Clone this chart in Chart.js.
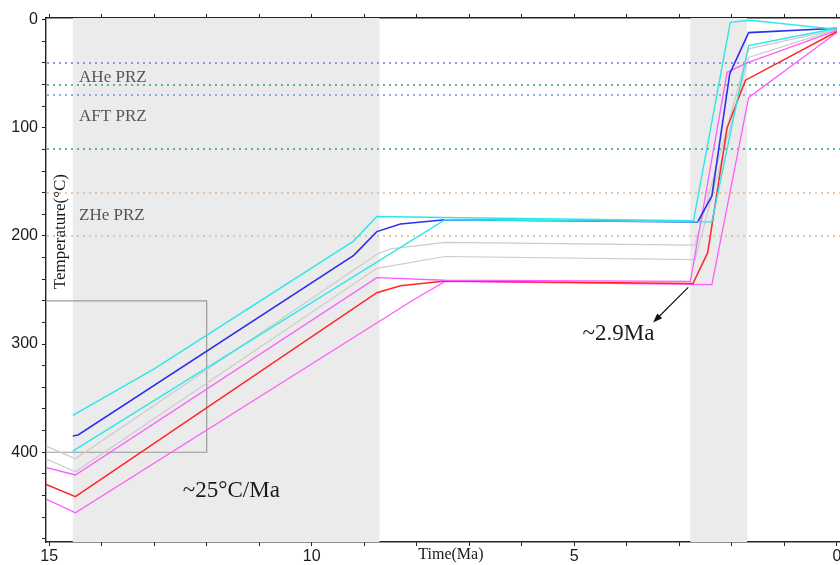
<!DOCTYPE html>
<html>
<head>
<meta charset="utf-8">
<script src="https://cdn.jsdelivr.net/npm/chart.js@4/dist/chart.umd.min.js"></script>
<style>
  html, body { margin: 0; padding: 0; background: #fff; overflow: hidden; }
  #wrap { width: 850px; height: 565px; }
</style>
</head>
<body>
<div id="wrap"><canvas id="c" width="850" height="565"></canvas></div>
<script>
// t-T paths (age in Ma, temperature in °C)
var cyanUpperAge = [14.55, 13.0, 9.21, 8.76, 7.5, 2.73, 2.03, 1.65, 0];
var cyanUpperTemp = [366, 323, 205, 182, 183, 186, 2.5, 0.6, 9];
var blueAge = [14.55, 14.45, 9.2, 8.76, 8.31, 7.46, 2.65, 2.38, 2.04, 1.68, 0];
var blueTemp = [385, 384, 218, 196, 189, 185, 187, 163, 50, 12, 8];
var cyanLowerAge = [14.55, 7.46, 2.38, 1.68, 0];
var cyanLowerTemp = [399, 185, 187, 24, 8];
var grayUpperAge = [15.07, 14.5, 8.76, 8.5, 7.46, 2.7, 1.68, 0];
var grayUpperTemp = [394, 406, 217, 212, 206, 208.5, 27, 9];
var grayLowerAge = [15.07, 14.5, 8.76, 7.46, 2.7, 1.68, 0];
var grayLowerTemp = [406, 418, 230, 219, 222, 35, 9];
var magentaUpperAge = [15.07, 14.5, 8.76, 7.46, 2.79, 2.09, 1.71, 0];
var magentaUpperTemp = [414, 421, 238.6, 241, 242, 48.7, 40, 10];
var redAge = [15.07, 14.5, 8.76, 8.31, 7.46, 2.74, 2.46, 2.09, 1.74, 0];
var redTemp = [429.5, 441, 252.5, 246, 241.7, 244, 215.5, 100, 56, 11];
var magentaLowerAge = [15.07, 14.5, 8.06, 7.46, 2.38, 1.68, 0];
var magentaLowerTemp = [443, 456, 259, 242, 245, 72, 12];

// ~25°C/Ma box
var boxAge = [15.3, 12, 12, 15.3];
var boxTemp = [260, 260, 400, 400];

// cooling episodes (shaded), Ma
var bandFrom = [14.55, 2.79];
var bandTo = [8.71, 1.71];

// partial retention zone limits, °C
var przTemp = [40, 70, 60, 120, 160, 200];
var przColor = ['#7676f0', '#8484f4', '#2f9e7e', '#2f9e7e', '#dfb48f', '#dfb48f'];
var przLabel = ['AHe PRZ', 'AFT PRZ', 'ZHe PRZ'];
var przLabelTemp = [58, 94, 185];

var xTickLabels = [15, 10, 5, 0];
var yTickLabels = [0, 100, 200, 300, 400];

function pts(ages, temps) {
  return ages.map(function (a, i) { return { x: a, y: temps[i] }; });
}

var serif = '"Liberation Serif", "Times New Roman", serif';

var overlay = {
  id: 'overlay',
  beforeDatasetsDraw: function (chart) {
    var ctx = chart.ctx, a = chart.chartArea, x = chart.scales.x, y = chart.scales.y;
    ctx.save();
    ctx.beginPath();
    ctx.rect(a.left, a.top, a.right - a.left, a.bottom - a.top);
    ctx.clip();
    ctx.fillStyle = '#ebebeb';
    for (var i = 0; i < bandFrom.length; i++) {
      var x1 = x.getPixelForValue(bandFrom[i]), x2 = x.getPixelForValue(bandTo[i]);
      ctx.fillRect(Math.min(x1, x2), a.top, Math.abs(x2 - x1), a.bottom - a.top);
    }
    ctx.lineWidth = 1.6;
    ctx.setLineDash([2, 4]);
    przTemp.forEach(function (t, i) {
      var py = Math.round(y.getPixelForValue(t));
      ctx.strokeStyle = przColor[i];
      ctx.beginPath();
      ctx.moveTo(a.left + 1, py);
      ctx.lineTo(a.right, py);
      ctx.stroke();
    });
    ctx.setLineDash([]);
    ctx.fillStyle = '#555';
    ctx.font = '17px ' + serif;
    ctx.textAlign = 'left';
    ctx.textBaseline = 'alphabetic';
    przLabel.forEach(function (s, i) {
      ctx.fillText(s, x.getPixelForValue(14.43), y.getPixelForValue(przLabelTemp[i]));
    });
    ctx.restore();
  },
  afterDatasetsDraw: function (chart) {
    var ctx = chart.ctx, x = chart.scales.x, y = chart.scales.y;
    ctx.save();
    ctx.fillStyle = '#1a1a1a';
    ctx.textAlign = 'center';
    ctx.textBaseline = 'middle';
    ctx.font = '23px ' + serif;
    ctx.fillText('~25\u00B0C/Ma', x.getPixelForValue(11.53), y.getPixelForValue(436));
    ctx.fillText('~2.9Ma', x.getPixelForValue(4.16), y.getPixelForValue(291));
    // temperature axis title inside the plot
    ctx.font = '17px ' + serif;
    ctx.save();
    ctx.translate(x.getPixelForValue(14.79), y.getPixelForValue(196));
    ctx.rotate(-Math.PI / 2);
    ctx.fillText('Temperature(\u00B0C)', 0, 0);
    ctx.restore();
    ctx.font = '16px ' + serif;
    ctx.fillText('Time(Ma)', x.getPixelForValue(7.35), x.top + 13);
    // arrow to the ~2.9 Ma kink
    var ax1 = x.getPixelForValue(2.83), ay1 = y.getPixelForValue(247.6);
    var ax2 = x.getPixelForValue(3.5), ay2 = y.getPixelForValue(280);
    var ang = Math.atan2(ay2 - ay1, ax2 - ax1);
    ctx.strokeStyle = '#111';
    ctx.lineWidth = 1.2;
    ctx.beginPath();
    ctx.moveTo(ax1, ay1);
    ctx.lineTo(ax2 - 6 * Math.cos(ang), ay2 - 6 * Math.sin(ang));
    ctx.stroke();
    ctx.beginPath();
    ctx.moveTo(ax2, ay2);
    ctx.lineTo(ax2 - 10 * Math.cos(ang - 0.35), ay2 - 10 * Math.sin(ang - 0.35));
    ctx.lineTo(ax2 - 10 * Math.cos(ang + 0.35), ay2 - 10 * Math.sin(ang + 0.35));
    ctx.closePath();
    ctx.fillStyle = '#111';
    ctx.fill();
    ctx.restore();
  }
};

function path(ages, temps, color, width) {
  return {
    data: pts(ages, temps),
    borderColor: color,
    borderWidth: width,
    pointRadius: 0,
    tension: 0,
    fill: false
  };
}

var datasets = [
  path(cyanUpperAge, cyanUpperTemp, '#2de6e6', 1.4),
  path(cyanLowerAge, cyanLowerTemp, '#2de6e6', 1.4),
  path(blueAge, blueTemp, '#2f2fee', 1.6),
  path(magentaUpperAge, magentaUpperTemp, '#ff5cff', 1.3),
  path(redAge, redTemp, '#ff2626', 1.5),
  path(magentaLowerAge, magentaLowerTemp, '#ff5cff', 1.3),
  path(grayUpperAge, grayUpperTemp, '#cccccc', 1.2),
  path(grayLowerAge, grayLowerTemp, '#cccccc', 1.2),
  path(boxAge, boxTemp, '#9a9a9a', 1.2)
];

var tickFont = { family: '"Liberation Sans", Arial, sans-serif', size: 16 };

new Chart(document.getElementById('c').getContext('2d'), {
  type: 'line',
  data: { datasets: datasets },
  options: {
    responsive: false,
    animation: false,
    devicePixelRatio: 1,
    layout: { padding: { left: 0, right: 0, top: 0, bottom: 0 } },
    plugins: { legend: { display: false }, tooltip: { enabled: false } },
    scales: {
      x: {
        type: 'linear',
        position: 'bottom',
        reverse: true,
        min: -0.25,
        max: 15.06,
        afterFit: function (s) { s.height = 23; },
        border: { display: true, color: '#222', width: 1.4 },
        grid: { drawOnChartArea: false, drawTicks: true, tickLength: 4, color: '#222' },
        ticks: {
          stepSize: 1,
          includeBounds: false,
          autoSkip: false,
          maxRotation: 0,
          padding: 1,
          color: '#1a1a1a',
          font: tickFont,
          callback: function (v) { return xTickLabels.indexOf(v) >= 0 ? String(v) : ''; }
        }
      },
      x2: {
        type: 'linear',
        position: 'top',
        reverse: true,
        min: -0.25,
        max: 15.06,
        afterFit: function (s) { s.height = 18; },
        border: { display: true, color: '#222', width: 1.4 },
        grid: { drawOnChartArea: false, drawTicks: true, tickLength: 4, color: '#222' },
        ticks: {
          stepSize: 1,
          includeBounds: false,
          autoSkip: false,
          maxRotation: 0,
          font: { size: 1 },
          callback: function () { return ''; }
        }
      },
      y: {
        type: 'linear',
        reverse: true,
        min: -1.5,
        max: 483,
        afterFit: function (s) { s.width = 46; },
        border: { display: true, color: '#222', width: 1.4 },
        grid: { drawOnChartArea: false, drawTicks: true, tickLength: 4, color: '#222' },
        ticks: {
          stepSize: 20,
          includeBounds: false,
          autoSkip: false,
          padding: 4,
          color: '#1a1a1a',
          font: tickFont,
          callback: function (v) { return yTickLabels.indexOf(v) >= 0 ? String(v) : ''; }
        }
      }
    }
  },
  plugins: [overlay]
});
</script>
</body>
</html>
